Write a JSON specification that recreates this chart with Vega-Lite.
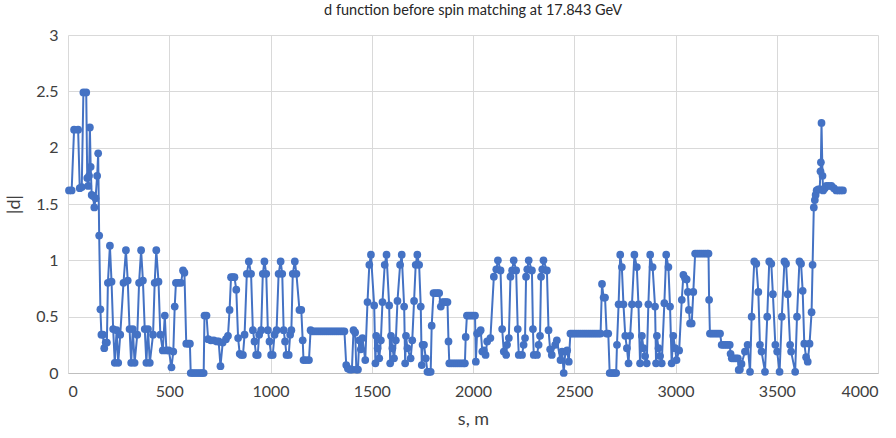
{
  "$schema": "https://vega.github.io/schema/vega-lite/v6.json",
  "width": 810,
  "height": 338,
  "autosize": "none",
  "padding": {"left": 68, "top": 35, "right": 18, "bottom": 65},
  "background": "white",
  "title": {"text": "d function before spin matching at 17.843 GeV", "fontSize": 14.5, "font": "Lato", "fontWeight": "normal", "color": "#262626", "offset": 9, "anchor": "middle"},
  "config": {"view": {"stroke": null}, "font": "Lato"},
  "data": {"values": [
    {"s":5,"d":1.62},{"s":18,"d":1.62},{"s":30,"d":2.16},{"s":50,"d":2.16},{"s":58,"d":1.64},{"s":68,"d":1.65},{"s":76,"d":2.49},{"s":90,"d":2.49},{"s":95,"d":1.73},{"s":100,"d":1.66},{"s":104,"d":1.75},{"s":108,"d":2.18},{"s":112,"d":1.83},{"s":117,"d":1.58},{"s":124,"d":1.57},{"s":130,"d":1.47},{"s":136,"d":1.55},{"s":144,"d":1.75},{"s":149,"d":1.95},{"s":154,"d":1.22},{"s":160,"d":0.565},{"s":165,"d":0.34},{"s":172,"d":0.34},{"s":179,"d":0.22},{"s":186,"d":0.27},{"s":192,"d":0.27},
    {"s":197,"d":0.8},{"s":207,"d":1.13},{"s":215,"d":0.81},{"s":223,"d":0.39},{"s":231,"d":0.09},{"s":240,"d":0.38},{"s":248,"d":0.09},{"s":258,"d":0.34},
    {"s":274,"d":0.8},{"s":286,"d":1.09},{"s":295,"d":0.82},{"s":304,"d":0.39},{"s":312,"d":0.09},{"s":320,"d":0.39},{"s":329,"d":0.09},{"s":342,"d":0.34},
    {"s":351,"d":0.8},{"s":361,"d":1.09},{"s":370,"d":0.82},{"s":379,"d":0.39},{"s":387,"d":0.09},{"s":395,"d":0.39},{"s":404,"d":0.09},{"s":420,"d":0.34},
    {"s":428,"d":0.8},{"s":436,"d":1.09},{"s":447,"d":0.81},{"s":456,"d":0.34},{"s":468,"d":0.2},{"s":478,"d":0.51},{"s":486,"d":0.2},{"s":498,"d":0.2},{"s":511,"d":0.05},{"s":520,"d":0.19},{"s":527,"d":0.59},{"s":533,"d":0.8},{"s":545,"d":0.8},{"s":558,"d":0.8},{"s":568,"d":0.91},{"s":575,"d":0.89},{"s":584,"d":0.26},{"s":594,"d":0.26},{"s":602,"d":0.26},{"s":606,"d":0.0},{"s":615,"d":0.0},{"s":625,"d":0.0},{"s":635,"d":0.0},{"s":645,"d":0.0},{"s":655,"d":0.0},{"s":663,"d":0.0},{"s":670,"d":0.0},{"s":674,"d":0.51},{"s":684,"d":0.51},{"s":692,"d":0.3},{"s":705,"d":0.29},{"s":720,"d":0.29},{"s":735,"d":0.28},{"s":744,"d":0.28},{"s":753,"d":0.06},{"s":764,"d":0.27},{"s":780,"d":0.3},{"s":790,"d":0.33},{"s":798,"d":0.56},{"s":805,"d":0.85},{"s":814,"d":0.85},{"s":822,"d":0.85},{"s":831,"d":0.74},{"s":840,"d":0.31},{"s":848,"d":0.17},{"s":856,"d":0.16},{"s":864,"d":0.16},{"s":872,"d":0.34},
    {"s":883,"d":0.88},{"s":893,"d":0.99},{"s":904,"d":0.88},{"s":913,"d":0.38},{"s":921,"d":0.28},{"s":929,"d":0.16},{"s":937,"d":0.16},{"s":944,"d":0.34},{"s":954,"d":0.38},
    {"s":962,"d":0.88},{"s":970,"d":0.99},{"s":979,"d":0.88},{"s":987,"d":0.38},{"s":995,"d":0.28},{"s":1003,"d":0.16},{"s":1011,"d":0.16},{"s":1020,"d":0.34},{"s":1030,"d":0.38},
    {"s":1040,"d":0.88},{"s":1050,"d":0.99},{"s":1058,"d":0.88},{"s":1065,"d":0.38},{"s":1072,"d":0.28},{"s":1079,"d":0.16},{"s":1090,"d":0.16},{"s":1097,"d":0.34},{"s":1103,"d":0.38},
    {"s":1110,"d":0.88},{"s":1120,"d":0.99},{"s":1128,"d":0.88},{"s":1143,"d":0.56},{"s":1152,"d":0.56},{"s":1159,"d":0.29},{"s":1163,"d":0.115},{"s":1175,"d":0.115},{"s":1190,"d":0.115},{"s":1198,"d":0.38},
    {"s":1205,"d":0.37},{"s":1215,"d":0.37},{"s":1225,"d":0.37},{"s":1235,"d":0.37},{"s":1245,"d":0.37},{"s":1255,"d":0.37},{"s":1265,"d":0.37},{"s":1275,"d":0.37},{"s":1285,"d":0.37},{"s":1295,"d":0.37},{"s":1305,"d":0.37},{"s":1315,"d":0.37},{"s":1325,"d":0.37},{"s":1335,"d":0.37},{"s":1345,"d":0.37},{"s":1355,"d":0.37},{"s":1365,"d":0.37},
    {"s":1374,"d":0.07},{"s":1382,"d":0.04},{"s":1392,"d":0.03},{"s":1402,"d":0.03},{"s":1410,"d":0.38},{"s":1418,"d":0.36},{"s":1424,"d":0.03},{"s":1432,"d":0.03},{"s":1438,"d":0.29},{"s":1446,"d":0.21},{"s":1454,"d":0.31},{"s":1468,"d":0.115},
    {"s":1479,"d":0.63},{"s":1488,"d":0.96},{"s":1496,"d":1.05},{"s":1512,"d":0.6},{"s":1518,"d":0.086},{"s":1522,"d":0.33},{"s":1529,"d":0.22},{"s":1537,"d":0.13},{"s":1545,"d":0.29},
    {"s":1553,"d":0.63},{"s":1564,"d":0.96},{"s":1573,"d":1.05},{"s":1586,"d":0.6},{"s":1591,"d":0.086},{"s":1595,"d":0.33},{"s":1602,"d":0.22},{"s":1610,"d":0.13},{"s":1619,"d":0.29},
    {"s":1627,"d":0.64},{"s":1640,"d":0.96},{"s":1648,"d":1.05},{"s":1660,"d":0.59},{"s":1665,"d":0.086},{"s":1669,"d":0.33},{"s":1676,"d":0.22},{"s":1692,"d":0.13},{"s":1700,"d":0.29},
    {"s":1709,"d":0.64},{"s":1717,"d":0.96},{"s":1725,"d":1.05},{"s":1734,"d":0.96},{"s":1742,"d":0.59},{"s":1747,"d":0.07},{"s":1751,"d":0.25},{"s":1758,"d":0.25},{"s":1767,"d":0.13},{"s":1775,"d":0.01},{"s":1783,"d":0.01},{"s":1791,"d":0.01},{"s":1796,"d":0.42},{"s":1805,"d":0.71},{"s":1815,"d":0.71},{"s":1825,"d":0.71},{"s":1833,"d":0.71},{"s":1841,"d":0.59},{"s":1849,"d":0.63},{"s":1858,"d":0.63},{"s":1866,"d":0.63},{"s":1874,"d":0.63},{"s":1879,"d":0.28},{"s":1883,"d":0.086},{"s":1893,"d":0.086},{"s":1903,"d":0.086},{"s":1913,"d":0.086},{"s":1923,"d":0.086},{"s":1933,"d":0.086},{"s":1943,"d":0.086},{"s":1953,"d":0.086},{"s":1960,"d":0.086},
    {"s":1964,"d":0.32},{"s":1970,"d":0.51},{"s":1980,"d":0.51},{"s":1990,"d":0.51},{"s":2000,"d":0.51},{"s":2010,"d":0.51},{"s":2014,"d":0.1},{"s":2020,"d":0.35},{"s":2030,"d":0.36},{"s":2038,"d":0.38},{"s":2046,"d":0.19},{"s":2054,"d":0.2},{"s":2062,"d":0.16},{"s":2070,"d":0.28},{"s":2086,"d":0.31},
    {"s":2103,"d":0.855},{"s":2115,"d":0.92},{"s":2123,"d":1.0},{"s":2136,"d":0.91},{"s":2144,"d":0.39},{"s":2152,"d":0.19},{"s":2164,"d":0.16},{"s":2168,"d":0.25},{"s":2177,"d":0.31},
    {"s":2185,"d":0.855},{"s":2193,"d":0.91},{"s":2201,"d":1.0},{"s":2213,"d":0.91},{"s":2221,"d":0.39},{"s":2226,"d":0.16},{"s":2242,"d":0.16},{"s":2250,"d":0.25},{"s":2257,"d":0.31},
    {"s":2262,"d":0.855},{"s":2268,"d":0.92},{"s":2275,"d":1.0},{"s":2291,"d":0.91},{"s":2296,"d":0.39},{"s":2300,"d":0.16},{"s":2316,"d":0.16},{"s":2324,"d":0.25},{"s":2331,"d":0.33},
    {"s":2336,"d":0.855},{"s":2342,"d":0.92},{"s":2348,"d":1.0},{"s":2365,"d":0.91},{"s":2373,"d":0.38},{"s":2381,"d":0.21},{"s":2389,"d":0.16},{"s":2406,"d":0.25},{"s":2414,"d":0.29},{"s":2432,"d":0.115},{"s":2440,"d":0.19},{"s":2448,"d":0.0},{"s":2456,"d":0.19},{"s":2465,"d":0.2},{"s":2473,"d":0.1},{"s":2481,"d":0.35},
    {"s":2490,"d":0.35},{"s":2500,"d":0.35},{"s":2510,"d":0.35},{"s":2520,"d":0.35},{"s":2530,"d":0.35},{"s":2540,"d":0.35},{"s":2550,"d":0.35},{"s":2560,"d":0.35},{"s":2570,"d":0.35},{"s":2580,"d":0.35},{"s":2590,"d":0.35},{"s":2600,"d":0.35},{"s":2610,"d":0.35},{"s":2620,"d":0.35},{"s":2630,"d":0.35},
    {"s":2637,"d":0.79},{"s":2645,"d":0.67},{"s":2652,"d":0.67},{"s":2660,"d":0.35},{"s":2668,"d":0.35},{"s":2675,"d":0.0},{"s":2683,"d":0.0},{"s":2692,"d":0.0},{"s":2700,"d":0.0},{"s":2707,"d":0.0},{"s":2711,"d":0.25},{"s":2719,"d":0.61},{"s":2727,"d":1.05},{"s":2735,"d":0.94},{"s":2743,"d":0.61},{"s":2752,"d":0.33},{"s":2760,"d":0.22},{"s":2768,"d":0.086},{"s":2776,"d":0.33},
    {"s":2785,"d":0.61},{"s":2797,"d":1.05},{"s":2809,"d":0.94},{"s":2817,"d":0.61},{"s":2825,"d":0.086},{"s":2834,"d":0.33},{"s":2842,"d":0.22},{"s":2850,"d":0.15},{"s":2858,"d":0.086},
    {"s":2866,"d":0.61},{"s":2875,"d":1.05},{"s":2887,"d":0.94},{"s":2899,"d":0.59},{"s":2904,"d":0.086},{"s":2908,"d":0.33},{"s":2916,"d":0.22},{"s":2924,"d":0.15},{"s":2932,"d":0.086},
    {"s":2945,"d":0.62},{"s":2954,"d":1.05},{"s":2965,"d":0.94},{"s":2973,"d":0.59},{"s":2981,"d":0.086},{"s":2989,"d":0.33},{"s":2998,"d":0.22},{"s":3005,"d":0.115},{"s":3018,"d":0.2},
    {"s":3031,"d":0.65},{"s":3039,"d":0.87},{"s":3047,"d":0.84},{"s":3055,"d":0.83},{"s":3061,"d":0.72},{"s":3066,"d":0.56},{"s":3072,"d":0.44},{"s":3080,"d":0.44},{"s":3088,"d":0.72},{"s":3097,"d":1.06},{"s":3107,"d":1.06},{"s":3117,"d":1.06},{"s":3127,"d":1.06},{"s":3137,"d":1.06},{"s":3147,"d":1.06},{"s":3157,"d":1.06},{"s":3163,"d":1.06},{"s":3166,"d":0.65},{"s":3170,"d":0.35},{"s":3180,"d":0.35},{"s":3190,"d":0.35},{"s":3200,"d":0.35},{"s":3210,"d":0.35},{"s":3220,"d":0.35},{"s":3228,"d":0.25},{"s":3238,"d":0.25},{"s":3248,"d":0.25},{"s":3258,"d":0.25},{"s":3268,"d":0.25},{"s":3272,"d":0.17},{"s":3278,"d":0.13},{"s":3288,"d":0.13},{"s":3298,"d":0.13},{"s":3308,"d":0.13},{"s":3312,"d":0.027},{"s":3318,"d":0.03},{"s":3326,"d":0.08},{"s":3343,"d":0.19},{"s":3356,"d":0.25},
    {"s":3368,"d":0.01},{"s":3376,"d":0.5},{"s":3389,"d":0.99},{"s":3399,"d":0.97},{"s":3409,"d":0.72},{"s":3417,"d":0.25},{"s":3425,"d":0.19},
    {"s":3442,"d":0.01},{"s":3453,"d":0.5},{"s":3463,"d":0.99},{"s":3473,"d":0.97},{"s":3481,"d":0.7},{"s":3493,"d":0.25},{"s":3502,"d":0.19},
    {"s":3514,"d":0.01},{"s":3525,"d":0.5},{"s":3538,"d":0.99},{"s":3546,"d":0.97},{"s":3554,"d":0.7},{"s":3566,"d":0.25},{"s":3571,"d":0.19},
    {"s":3591,"d":0.01},{"s":3600,"d":0.5},{"s":3612,"d":0.99},{"s":3620,"d":0.97},{"s":3628,"d":0.73},{"s":3636,"d":0.26},{"s":3645,"d":0.14},{"s":3653,"d":0.1},{"s":3662,"d":0.26},{"s":3672,"d":0.54},{"s":3677,"d":0.96},
    {"s":3683,"d":1.47},{"s":3688,"d":1.535},{"s":3692,"d":1.58},{"s":3697,"d":1.62},{"s":3705,"d":1.63},{"s":3712,"d":1.63},{"s":3716,"d":1.79},{"s":3718,"d":1.87},{"s":3721,"d":2.22},{"s":3726,"d":1.75},{"s":3729,"d":1.62},{"s":3737,"d":1.64},{"s":3745,"d":1.66},{"s":3757,"d":1.66},{"s":3770,"d":1.66},{"s":3782,"d":1.64},{"s":3794,"d":1.62},{"s":3805,"d":1.62},{"s":3816,"d":1.62},{"s":3827,"d":1.62}
  ]},
  "mark": {"type": "line", "color": "#4472C4", "strokeWidth": 2, "point": {"filled": true, "size": 60, "color": "#4472C4", "opacity": 1}},
  "encoding": {
    "x": {"field": "s", "type": "quantitative", "scale": {"domain": [0, 4000], "nice": false},
      "axis": {"values": [0,500,1000,1500,2000,2500,3000,3500,4000], "format": "d", "title": "s, m", "grid": true, "gridColor": "#D9D9D9", "domain": true, "domainColor": "#BFBFBF", "ticks": false, "labelFontSize": 16, "labelColor": "#404040", "labelPadding": 10, "titleFontSize": 18, "titleFontWeight": "normal", "titleColor": "#404040", "titlePadding": 11, "labelFont": "Lato", "titleFont": "Lato"}},
    "y": {"field": "d", "type": "quantitative", "scale": {"domain": [0, 3], "nice": false},
      "axis": {"values": [0,0.5,1,1.5,2,2.5,3], "format": "~g", "title": "|d|", "grid": true, "gridColor": "#D9D9D9", "domain": false, "ticks": false, "labelFontSize": 16, "labelColor": "#404040", "labelPadding": 10, "titleFontSize": 18, "titleFontWeight": "normal", "titleColor": "#404040", "titlePadding": 12, "labelFont": "Lato", "titleFont": "Lato"}}
  }
}
